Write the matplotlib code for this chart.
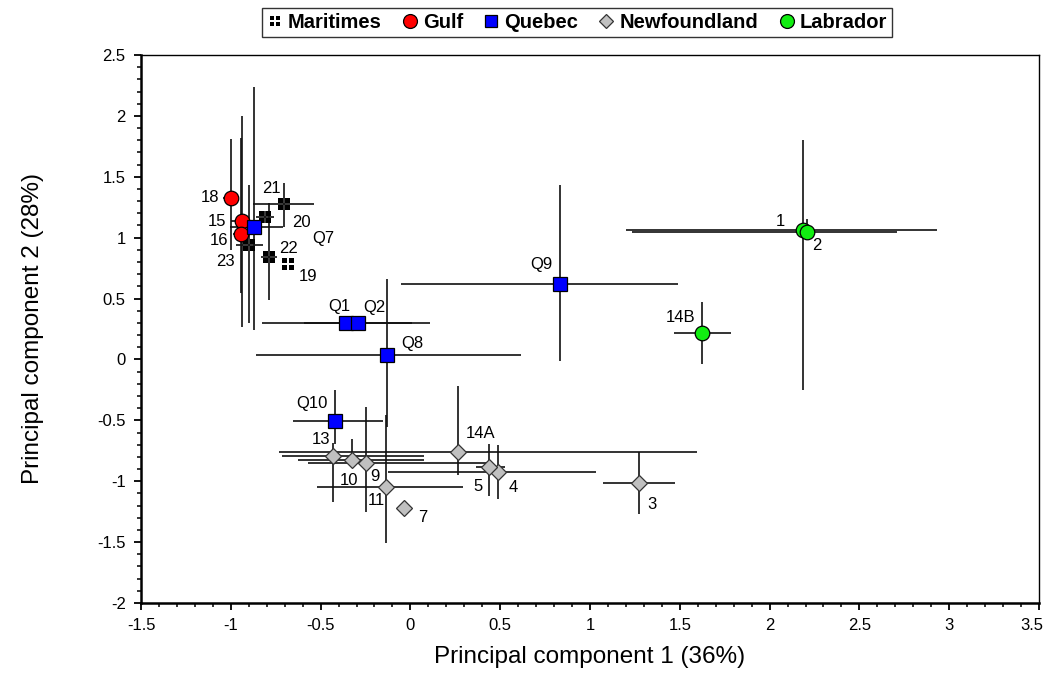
import matplotlib
matplotlib.use("Agg")
import matplotlib.pyplot as plt
from matplotlib.path import Path
from matplotlib.lines import Line2D
from matplotlib.ticker import MultipleLocator, FuncFormatter, FormatStrFormatter

plt.rcParams["font.family"] = ["Liberation Sans", "DejaVu Sans"]

# ---- data (x, y, and asymmetric error bars: lower / upper) ----
mar_labels = ["19", "20", "21", "22", "23"]
mar_x = [-0.683, -0.81, -0.704, -0.787, -0.899]
mar_y = [0.784, 1.167, 1.277, 0.844, 0.94]
mar_xlo = [0.0, 0.05, 0.174, 0.045, 0.07]
mar_xhi = [0.0, 0.05, 0.169, 0.043, 0.08]
mar_ylo = [0.0, 0.05, 0.186, 0.356, 0.64]
mar_yhi = [0.0, 0.05, 0.17, 0.438, 0.49]

gulf_labels = ["15", "16", "18"]
gulf_x = [-0.94, -0.945, -0.999]
gulf_y = [1.14, 1.028, 1.329]
gulf_xlo = [0.06, 0.043, 0.045]
gulf_xhi = [0.05, 0.033, 0.04]
gulf_ylo = [0.87, 0.484, 0.43]
gulf_yhi = [0.862, 0.788, 0.48]

que_labels = ["Q1", "Q2", "Q7", "Q8", "Q9", "Q10"]
que_x = [-0.36, -0.293, -0.871, -0.13, 0.835, -0.42]
que_y = [0.297, 0.297, 1.088, 0.037, 0.62, -0.502]
que_xlo = [0.464, 0.3, 0.134, 0.731, 0.886, 0.232]
que_xhi = [0.469, 0.3, 0.163, 0.744, 0.655, 0.266]
que_ylo = [0.0, 0.0, 0.846, 0.59, 0.632, 0.19]
que_yhi = [0.0, 0.0, 1.147, 0.62, 0.813, 0.25]

nfl_labels = ["3", "4", "5", "7", "9", "10", "11", "13", "14A"]
nfl_x = [1.273, 0.486, 0.438, -0.034, -0.249, -0.327, -0.138, -0.429, 0.267]
nfl_y = [-1.011, -0.926, -0.885, -1.217, -0.852, -0.825, -1.044, -0.79, -0.757]
nfl_xlo = [0.202, 0.609, 0.072, 0.0, 0.32, 0.297, 0.384, 0.287, 1.0]
nfl_xhi = [0.2, 0.546, 0.089, 0.0, 0.69, 0.4, 0.432, 0.505, 1.33]
nfl_ylo = [0.257, 0.22, 0.24, 0.0, 0.4, 0.06, 0.465, 0.38, 0.19]
nfl_yhi = [0.252, 0.224, 0.19, 0.0, 0.465, 0.17, 0.59, 0.1, 0.54]

lab_labels = ["1", "2", "14B"]
lab_x = [2.188, 2.207, 1.625]
lab_y = [1.063, 1.05, 0.22]
lab_xlo = [0.987, 0.973, 0.16]
lab_xhi = [0.744, 0.5, 0.16]
lab_ylo = [1.314, 0.05, 0.26]
lab_yhi = [0.739, 0.1, 0.254]

# label offsets in pixels (dx, dy) from the marker centre
label_off = {
    "18": (-21, 0), "15": (-25, -1), "16": (-22, -6), "23": (-24, -17),
    "21": (-13, 15), "20": (37, -5), "Q7": (69, -12), "22": (19, 8),
    "19": (20, -13), "Q1": (-6, 17), "Q2": (17, 16), "Q8": (25, 11),
    "Q9": (-19, 19), "1": (-23, 8), "2": (10, -14), "14B": (-22, 15),
    "Q10": (-23, 17), "13": (-12, 16), "10": (-3, -21), "9": (9, -13),
    "11": (-9, -14), "7": (18, -10), "14A": (22, 18), "5": (-11, -19),
    "4": (16, -15), "3": (13, -22),
}


def quad_marker(g=0.14):
    verts, codes = [], []
    s = 1 - g
    for x0, y0 in [(-1, -1), (g, -1), (-1, g), (g, g)]:
        verts += [(x0, y0), (x0 + s, y0), (x0 + s, y0 + s), (x0, y0 + s), (x0, y0)]
        codes += [Path.MOVETO, Path.LINETO, Path.LINETO, Path.LINETO, Path.CLOSEPOLY]
    return Path(verts, codes)


QUAD = quad_marker()

groups = [
    ("Maritimes", mar_labels, mar_x, mar_y, mar_xlo, mar_xhi, mar_ylo, mar_yhi,
     dict(marker=QUAD, color="black", ms=8.5, mec="none", mew=0, lms=6.5)),
    ("Gulf", gulf_labels, gulf_x, gulf_y, gulf_xlo, gulf_xhi, gulf_ylo, gulf_yhi,
     dict(marker="o", color="#ff0000", ms=10.5, mec="black", mew=0.9, lms=10)),
    ("Quebec", que_labels, que_x, que_y, que_xlo, que_xhi, que_ylo, que_yhi,
     dict(marker="s", color="#0000ff", ms=9.5, mec="black", mew=0.9, lms=9)),
    ("Newfoundland", nfl_labels, nfl_x, nfl_y, nfl_xlo, nfl_xhi, nfl_ylo, nfl_yhi,
     dict(marker="D", color="#c0c0c0", ms=8.3, mec="#333333", mew=0.9, lms=7.5)),
    ("Labrador", lab_labels, lab_x, lab_y, lab_xlo, lab_xhi, lab_ylo, lab_yhi,
     dict(marker="o", color="#11ee11", ms=10.5, mec="black", mew=0.9, lms=10)),
]

XMIN, XMAX = -1.5, 3.5

fig = plt.figure(figsize=(10.43, 6.83), dpi=100)
ax = fig.add_axes([141 / 1043, 80 / 683, 898 / 1043, 548 / 683])

# error bars first, then markers on top
for name, labs, xs, ys, xlo, xhi, ylo, yhi, st in groups:
    ax.errorbar(xs, ys, xerr=[xlo, xhi], yerr=[ylo, yhi], fmt="none",
                ecolor="#111111", elinewidth=1.2, capsize=0, zorder=2)

handles = []
for name, labs, xs, ys, xlo, xhi, ylo, yhi, st in groups:
    ax.plot(xs, ys, linestyle="none", zorder=3,
            marker=st["marker"], markersize=st["ms"], markerfacecolor=st["color"],
            markeredgecolor=st["mec"], markeredgewidth=st["mew"])
    handles.append(Line2D([], [], linestyle="none", label=name,
                          marker=st["marker"], markersize=st["lms"],
                          markerfacecolor=st["color"], markeredgecolor=st["mec"],
                          markeredgewidth=st["mew"]))
    for lab, x, y in zip(labs, xs, ys):
        dx, dy = label_off[lab]
        ax.annotate(lab, (x, y), xytext=(dx, dy), textcoords="offset pixels",
                    ha="center", va="center", fontsize=12, color="black", zorder=4)

ax.set_xlim(XMIN, XMAX)
ax.set_ylim(-2, 2.5)
ax.xaxis.set_major_locator(MultipleLocator(0.5))
ax.xaxis.set_minor_locator(MultipleLocator(0.1))
ax.yaxis.set_major_locator(MultipleLocator(0.5))
ax.yaxis.set_minor_locator(MultipleLocator(0.1))
# last x label is drawn separately (right-aligned) so it stays inside the figure
ax.xaxis.set_major_formatter(FuncFormatter(lambda v, p: "" if abs(v - XMAX) < 1e-9 else f"{v:g}"))
ax.yaxis.set_major_formatter(FormatStrFormatter("%g"))
ax.tick_params(which="major", direction="out", length=5, width=1.3, labelsize=12, pad=6)
ax.tick_params(which="minor", direction="out", length=3, width=1.1)
ax.annotate(f"{XMAX:g}", (XMAX, 0), xycoords=("data", "axes fraction"),
            xytext=(3, -11), textcoords="offset points", ha="right", va="top", fontsize=12)

ax.spines["left"].set_linewidth(1.8)
ax.spines["bottom"].set_linewidth(1.8)
ax.spines["top"].set_linewidth(1.0)
ax.spines["right"].set_linewidth(1.0)

ax.set_xlabel("Principal component 1 (36%)", fontsize=17.5, labelpad=9)
ax.set_ylabel("Principal component 2 (28%)", fontsize=17.5, labelpad=38)

leg = fig.legend(handles=handles, loc="upper center", bbox_to_anchor=(0.553, 0.988),
                 ncol=5, frameon=True, fancybox=False, edgecolor="black",
                 handlelength=0.8, handletextpad=0.25, columnspacing=1.0,
                 borderpad=0.25, borderaxespad=0.0, prop={"weight": "bold", "size": 14.5})
leg.get_frame().set_linewidth(1.0)

fig.savefig("out.png", dpi=100)
